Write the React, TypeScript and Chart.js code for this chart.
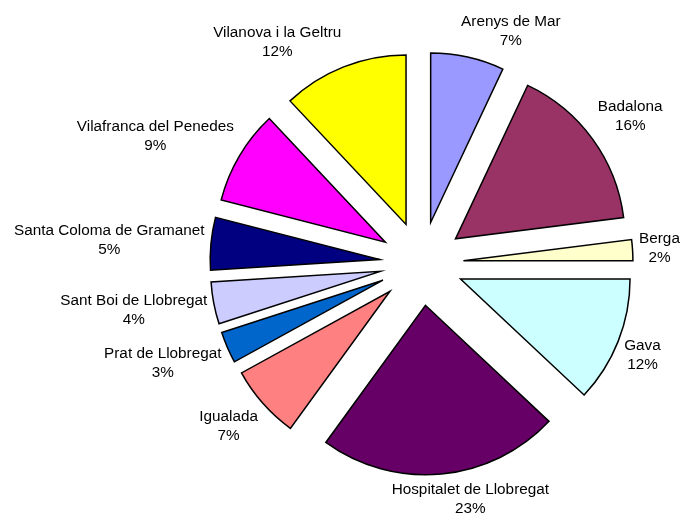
import React, { useEffect, useRef } from "react";
import { Chart, registerables } from "chart.js";

Chart.register(...registerables);

const categories = [
  "Arenys de Mar",
  "Badalona",
  "Berga",
  "Gava",
  "Hospitalet de Llobregat",
  "Igualada",
  "Prat de Llobregat",
  "Sant Boi de Llobregat",
  "Santa Coloma de Gramanet",
  "Vilafranca del Penedes",
  "Vilanova i la Geltru",
];
const shares = [7, 16, 2, 12, 23, 7, 3, 4, 5, 9, 12];
const sliceColors = [
  "#9999FF",
  "#993366",
  "#FFFFCC",
  "#CCFFFF",
  "#660066",
  "#FF8080",
  "#0066CC",
  "#CCCCFF",
  "#000080",
  "#FF00FF",
  "#FFFF00",
];

const EXPLODE = 42;
const LABEL_GAP = 6.5;
const FONT = '15.3px "Liberation Sans", Arial, sans-serif';

const explodePlugin = {
  id: "explodeSlices",
  beforeDatasetDraw(chart: any, args: any) {
    const ctx = chart.ctx;
    args.meta.data.forEach((arc: any) => {
      const mid = (arc.startAngle + arc.endAngle) / 2;
      ctx.save();
      ctx.translate(Math.cos(mid) * EXPLODE, Math.sin(mid) * EXPLODE);
      arc.draw(ctx);
      ctx.restore();
    });
    return false;
  },
};

const labelPlugin = {
  id: "sliceLabels",
  afterDatasetsDraw(chart: any) {
    const meta = chart.getDatasetMeta(0);
    const ctx = chart.ctx;
    const data: number[] = chart.data.datasets[0].data;
    const total = data.reduce((a, b) => a + b, 0);
    ctx.save();
    ctx.font = FONT;
    ctx.fillStyle = "#000";
    ctx.textAlign = "center";
    ctx.textBaseline = "middle";
    meta.data.forEach((arc: any, i: number) => {
      const mid = (arc.startAngle + arc.endAngle) / 2;
      const dx = Math.cos(mid);
      const dy = Math.sin(mid);
      const L = arc.outerRadius + EXPLODE + LABEL_GAP;
      const px = arc.x + dx * L;
      const py = arc.y + dy * L;
      const line1 = chart.data.labels[i];
      const line2 = Math.round((data[i] / total) * 100) + "%";
      const hw = Math.max(ctx.measureText(line1).width, ctx.measureText(line2).width) / 2;
      const hh = 19;
      const fromV = (Math.acos(Math.min(1, Math.abs(dy))) * 180) / Math.PI;
      const fromH = (Math.acos(Math.min(1, Math.abs(dx))) * 180) / Math.PI;
      const cx = px + Math.sign(dx) * hw * Math.min(1, fromV / 15);
      const cy = py + Math.sign(dy) * hh * Math.min(1, fromH / 35);
      ctx.fillText(line1, cx, cy - 9.5);
      ctx.fillText(line2, cx, cy + 9.5);
    });
    ctx.restore();
  },
};

export default function App() {
  const canvasRef = useRef<HTMLCanvasElement | null>(null);

  useEffect(() => {
    if (!canvasRef.current) return;
    const chart = new Chart(canvasRef.current, {
      type: "pie",
      data: {
        labels: categories,
        datasets: [
          {
            data: shares,
            backgroundColor: sliceColors,
            borderColor: "#000",
            borderWidth: 1.5,
            borderJoinStyle: "miter",
            radius: 169.5,
          } as any,
        ],
      },
      options: {
        responsive: true,
        maintainAspectRatio: false,
        animation: false,
        layout: { padding: { left: 162, right: 0, top: 10, bottom: 0 } },
        plugins: {
          legend: { display: false },
          tooltip: { enabled: false },
        },
      },
      plugins: [explodePlugin, labelPlugin],
    });
    return () => chart.destroy();
  }, []);

  return (
    <div style={{ position: "fixed", left: 0, top: 0, width: 681, height: 517, background: "#fff" }}>
      <canvas ref={canvasRef} />
    </div>
  );
}
